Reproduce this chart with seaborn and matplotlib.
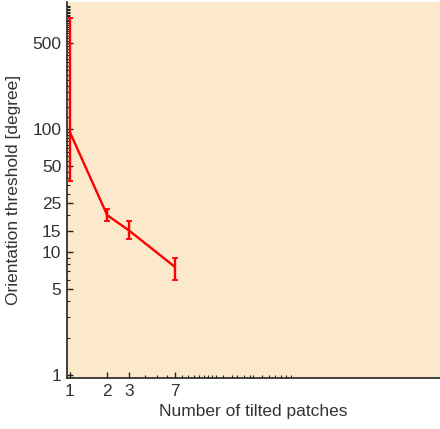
import numpy as np
import pandas as pd
import matplotlib
matplotlib.use("Agg")
import matplotlib.pyplot as plt
import matplotlib.ticker as mticker
import seaborn as sns

# Orientation threshold vs. number of tilted patches
n_patches = [1, 2, 3, 7]
threshold = [95, 20, 15, 7.6]
err_low = [38, 18, 12.8, 5.9]
err_high = [800, 22.5, 18, 9.0]

x_ticks = [1, 2, 3, 7]
y_ticks = [1, 5, 10, 15, 25, 50, 100, 500]

df = pd.DataFrame({"patches": n_patches, "threshold": threshold,
                   "lo": err_low, "hi": err_high})

sns.set_theme(style="white")
plt.rcParams["font.family"] = ["Liberation Sans", "DejaVu Sans"]

fig = plt.figure(figsize=(4.40, 4.29), dpi=100)
ax = fig.add_axes([67 / 440, 1 - 378 / 429, 373 / 440, 376 / 429])
ax.set_facecolor("#FCE9CB")

red = "#FF0000"
sns.lineplot(data=df, x="patches", y="threshold", ax=ax, color=red,
             linewidth=1.7, marker=None, zorder=3)
ax.errorbar(df["patches"], df["threshold"],
            yerr=[df["threshold"] - df["lo"], df["hi"] - df["threshold"]],
            fmt="none", ecolor=red, elinewidth=1.7, capsize=2.5, capthick=1.3,
            zorder=3)

ax.set_xscale("log")
ax.set_yscale("log")
ax.set_xlim(0.95, 950)
ax.set_ylim(0.95, 1080)

ax.xaxis.set_major_locator(mticker.FixedLocator(x_ticks))
ax.xaxis.set_major_formatter(mticker.FixedFormatter([str(v) for v in x_ticks]))
x_minor = [4, 5, 6, 8, 9, 10, 11, 12, 13, 14, 15, 17, 20, 22, 25, 28, 30,
           35, 40, 45, 50, 55, 60]
ax.xaxis.set_minor_locator(mticker.FixedLocator(x_minor))
ax.xaxis.set_minor_formatter(mticker.NullFormatter())

ax.yaxis.set_major_locator(mticker.FixedLocator(y_ticks))
ax.yaxis.set_major_formatter(mticker.FixedFormatter([str(v) for v in y_ticks]))
y_minor = ([v for v in range(2, 10)] + list(range(20, 100, 5)) +
           list(range(125, 1001, 25)))
y_minor = [v for v in y_minor if v not in y_ticks]
ax.yaxis.set_minor_locator(mticker.FixedLocator(y_minor))
ax.yaxis.set_minor_formatter(mticker.NullFormatter())

ax.tick_params(axis="both", which="major", direction="in", length=4,
               width=1, color="#222222", labelsize=12.5, labelcolor="#333333",
               pad=4)
ax.tick_params(axis="both", which="minor", direction="in", length=2,
               width=0.8, color="#222222")
ax.tick_params(axis="y", which="both", left=True, right=False)
ax.tick_params(axis="x", which="both", bottom=True, top=False)

for side in ["top", "right"]:
    ax.spines[side].set_visible(False)
for side in ["left", "bottom"]:
    ax.spines[side].set_color("#222222")
    ax.spines[side].set_linewidth(1.2)

ax.set_xlabel("Number of tilted patches", fontsize=12.5, color="#333333",
              labelpad=4)
ax.set_ylabel("Orientation threshold [degree]", fontsize=12.5,
              color="#333333", labelpad=8)

fig.savefig("out.png", dpi=100, facecolor="white")
